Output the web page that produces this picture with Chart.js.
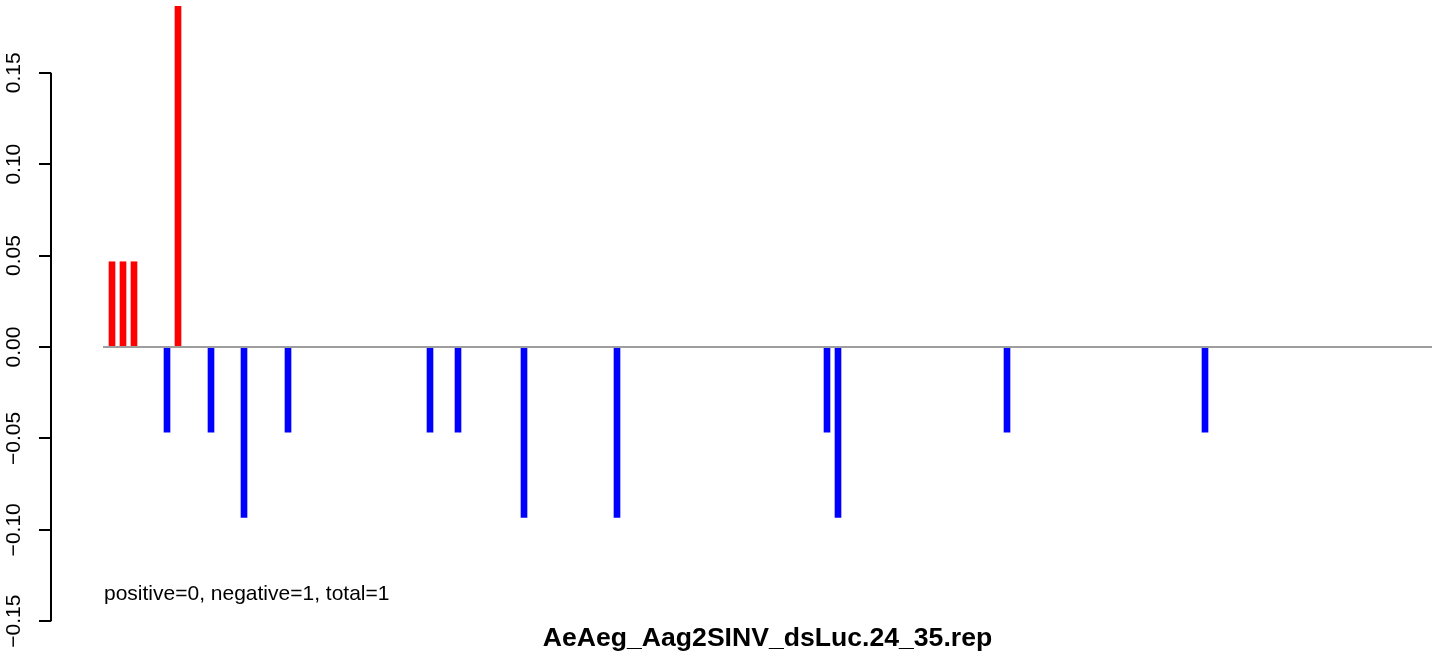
<!DOCTYPE html>
<html>
<head>
<meta charset="utf-8">
<script src="https://cdn.jsdelivr.net/npm/chart.js@4/dist/chart.umd.min.js"></script>
<style>
    body { margin: 0; background: #fff; }
    #wrap { width: 1444px; height: 656px; }
</style>
</head>
<body>
<div id="wrap"><canvas id="repChart" width="1444" height="656"></canvas></div>
<script>
// (x in plot units, y as fraction)
const posPositions = [61, 72, 83, 127];
const posValues = [0.0466, 0.0466, 0.0466, 0.1865];
const negPositions = [116, 160, 193, 237, 379, 407, 473, 566, 776, 787, 956, 1154];
const negValues = [-0.0466, -0.0466, -0.0932, -0.0466, -0.0466, -0.0466, -0.0932, -0.0932, -0.0466, -0.0932, -0.0466, -0.0466];
const baseRange = [52, 1381];
const yTicks = [-0.15, -0.10, -0.05, 0.00, 0.05, 0.10, 0.15];
const yLabels = ["\u22120.15", "\u22120.10", "\u22120.05", "0.00", "0.05", "0.10", "0.15"];
const summaryText = "positive=0, negative=1, total=1";
const chartTitle = "AeAeg_Aag2SINV_dsLuc.24_35.rep";

const fontFamily = "'Liberation Sans', Arial, Helvetica, sans-serif";

function toPoints(xs, ys) {
    return xs.map((x, i) => ({ x: x, y: ys[i] }));
}

// R-style axis line, rotated tick labels and the texts
const rDecor = {
    id: 'rDecor',
    afterDraw(chart) {
        const ctx = chart.ctx;
        const y = chart.scales.y;
        const x = chart.scales.x;
        const left = chart.chartArea.left;

        ctx.save();
        ctx.strokeStyle = '#000';
        ctx.lineWidth = 2;
        ctx.beginPath();
        ctx.moveTo(left, y.getPixelForValue(yTicks[yTicks.length - 1]));
        ctx.lineTo(left, y.getPixelForValue(yTicks[0]));
        ctx.stroke();

        ctx.fillStyle = '#000';
        ctx.font = '21px ' + fontFamily;
        ctx.textAlign = 'center';
        ctx.textBaseline = 'middle';
        yTicks.forEach((v, i) => {
            ctx.save();
            ctx.translate(14, y.getPixelForValue(v));
            ctx.rotate(-Math.PI / 2);
            ctx.fillText(yLabels[i], 0, 0);
            ctx.restore();
        });

        ctx.textAlign = 'left';
        ctx.textBaseline = 'alphabetic';
        ctx.fillText(summaryText, x.getPixelForValue(baseRange[0]) + 1, 600);

        const mid = (x.getPixelForValue(baseRange[0]) + x.getPixelForValue(baseRange[1])) / 2;
        ctx.font = 'bold 26.6px ' + fontFamily;
        ctx.textAlign = 'center';
        ctx.fillText(chartTitle, mid, 646);
        ctx.restore();
    }
};

new Chart(document.getElementById('repChart'), {
    type: 'bar',
    data: {
        datasets: [
            {
                type: 'line',
                data: toPoints(baseRange, [0, 0]),
                borderColor: '#9e9e9e',
                borderWidth: 2,
                pointRadius: 0,
                order: 0
            },
            {
                data: toPoints(posPositions, posValues),
                backgroundColor: '#ff0000',
                barThickness: 6,
                grouped: false,
                order: 1
            },
            {
                data: toPoints(negPositions, negValues),
                backgroundColor: '#0000ff',
                barThickness: 6,
                grouped: false,
                order: 1
            }
        ]
    },
    options: {
        responsive: false,
        animation: false,
        layout: { padding: { left: 39, right: 4, top: 6, bottom: 26 } },
        plugins: {
            legend: { display: false },
            tooltip: { enabled: false }
        },
        scales: {
            x: {
                type: 'linear',
                offset: false,
                min: 0,
                max: 1389,
                display: false
            },
            y: {
                min: -0.1548,
                max: 0.1865,
                afterBuildTicks: scale => {
                    scale.ticks = yTicks.map(v => ({ value: v }));
                },
                border: { display: false },
                grid: {
                    drawOnChartArea: false,
                    drawTicks: true,
                    tickLength: 12,
                    color: '#000',
                    lineWidth: 2
                },
                ticks: { display: false }
            }
        }
    },
    plugins: [rDecor]
});
</script>
</body>
</html>
